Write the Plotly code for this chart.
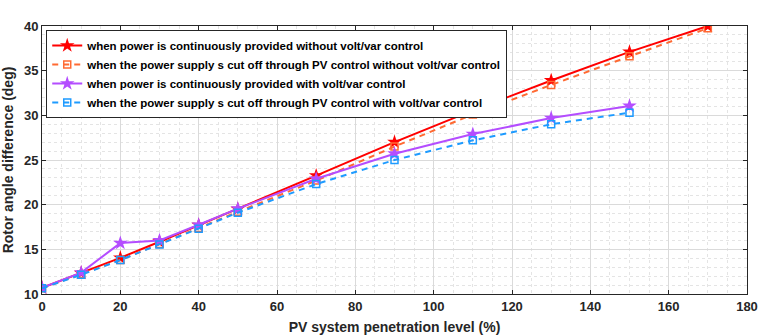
import plotly.graph_objects as go

x_full = [0, 10, 20, 30, 40, 50, 70, 90, 110, 130, 150, 170]
x_vv = [0, 10, 20, 30, 40, 50, 70, 90, 110, 130, 150]

red_vals = [10.7, 12.35, 14.05, 15.85, 17.7, 19.5, 23.25, 27.0, 30.55, 33.9, 37.1, 40.0]
orange_vals = [10.65, 12.2, 13.8, 15.6, 17.4, 19.2, 22.7, 26.5, 30.1, 33.4, 36.6, 39.75]
purple_vals = [10.7, 12.4, 15.7, 16.0, 17.75, 19.55, 22.9, 25.7, 27.9, 29.7, 31.05]
blue_vals = [10.65, 12.15, 13.8, 15.55, 17.3, 19.1, 22.3, 25.0, 27.2, 29.0, 30.3]

names = [
    "when power is continuously provided without volt/var control",
    "when the power supply s cut off through PV control without volt/var control",
    "when power is continuously provided with volt/var control",
    "when the power supply s cut off through PV control with volt/var control",
]

FONT = "Liberation Sans, Arial, sans-serif"

fig = go.Figure()
fig.add_trace(go.Scatter(x=x_full, y=red_vals, name=names[0], mode="lines+markers",
                         line=dict(color="#FF0000", width=2),
                         marker=dict(symbol="star", size=11, color="#FF0000")))
fig.add_trace(go.Scatter(x=x_full, y=orange_vals, name=names[1], mode="lines+markers",
                         line=dict(color="#FF6A33", width=2, dash="6px,5px"),
                         marker=dict(symbol="square-open", size=7, color="#FF6A33", line=dict(width=1.5))))
fig.add_trace(go.Scatter(x=x_vv, y=purple_vals, name=names[2], mode="lines+markers",
                         line=dict(color="#B44DFF", width=2),
                         marker=dict(symbol="star", size=11, color="#B44DFF")))
fig.add_trace(go.Scatter(x=x_vv, y=blue_vals, name=names[3], mode="lines+markers",
                         line=dict(color="#1E9BFF", width=2, dash="6px,5px"),
                         marker=dict(symbol="square-open", size=7, color="#1E9BFF", line=dict(width=1.5))))

axis_common = dict(
    showline=True, linecolor="#262626", linewidth=1, mirror="allticks",
    ticks="inside", ticklen=4, tickcolor="#262626", automargin=False,
    showgrid=True, gridcolor="#DADADA", gridwidth=1, zeroline=False,
    tickfont=dict(family=FONT, size=13, color="#262626", weight="bold"),
)

fig.update_xaxes(range=[0, 180], tick0=0, dtick=20,
                 minor=dict(dtick=5, showgrid=True, gridcolor="#E4E4E4", griddash="dot", gridwidth=1),
                 title=dict(text="PV system penetration level (%)", standoff=9,
                            font=dict(family=FONT, size=14, color="#262626", weight="bold")),
                 **axis_common)
fig.update_yaxes(range=[10, 40], tick0=10, dtick=5,
                 minor=dict(dtick=1, showgrid=True, gridcolor="#E4E4E4", griddash="dot", gridwidth=1),
                 title=dict(text="Rotor angle difference (deg)", standoff=10,
                            font=dict(family=FONT, size=14, color="#262626", weight="bold")),
                 **axis_common)

fig.update_layout(
    width=762, height=336,
    margin=dict(l=42, r=15, t=26, b=42),
    paper_bgcolor="white", plot_bgcolor="white",
    showlegend=True,
    legend=dict(x=0.006, y=0.985, xanchor="left", yanchor="top",
                bgcolor="white", bordercolor="#262626", borderwidth=1,
                font=dict(family=FONT, size=11.5, color="black", weight="bold"),
                tracegroupgap=0, itemwidth=30),
)

fig.write_html("out.html")
